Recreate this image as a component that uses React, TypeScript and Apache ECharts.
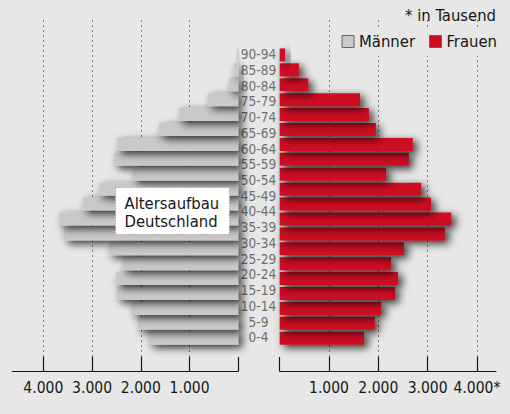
import React, { useEffect, useRef } from 'react';
import * as echarts from 'echarts';

// Age group labels, bottom to top
const ageGroups = ['0-4', '5-9', '10-14', '15-19', '20-24', '25-29', '30-34', '35-39', '40-44', '45-49', '50-54', '55-59', '60-64', '65-69', '70-74', '75-79', '80-84', '85-89', '90-94'];

// Bar rows as drawn in the picture (20 rows), bottom to top, in thousands of persons
const maleValues = [1830, 2060, 2180, 2490, 2510, 2370, 2650, 3580, 3680, 3190, 2860, 2160, 2550, 2490, 1630, 1220, 620, 190, 100, 25];
const femaleValues = [1710, 1930, 2060, 2340, 2400, 2260, 2520, 3350, 3480, 3070, 2870, 2160, 2620, 2700, 1950, 1810, 1630, 580, 390, 110];
const rowIds = maleValues.map((_, i) => 'r' + i);

// Axis scales
const tickValues = [0, 1000, 2000, 3000, 4000];
const leftMax = 4636;
const rightMax = 4387;

const FONT = "'DejaVu Sans Condensed', 'Liberation Sans Narrow', 'DejaVu Sans', sans-serif";
const BG = '#e6e7e6';
const INK = '#161616';
const MALE = '#cbc9c7';
const FEMALE = '#cd0a20';

const fmt = (v: number) => (v === 0 ? '' : `${Math.round(v / 1000)}.000`);

export default function App() {
  const ref = useRef<HTMLDivElement>(null);
  useEffect(() => {
    document.body.style.margin = '0';
    const chart = echarts.init(ref.current!, null, { renderer: 'svg' });
    const axisGridX = (gridIndex: number, inverse: boolean, max: number, star: boolean) => ({
      gridIndex,
      type: 'value',
      inverse,
      min: 0,
      max,
      axisLine: { show: true, lineStyle: { color: INK, width: 1.2 } },
      axisTick: { show: true, inside: true, length: 14, customValues: tickValues, lineStyle: { color: INK, width: 1.2 } },
      axisLabel: {
        show: true,
        customValues: tickValues.slice(1),
        margin: 9,
        fontSize: 15.5,
        fontFamily: FONT,
        color: INK,
        formatter: (v: number) => (star && v === 4000 ? fmt(v) + '*' : fmt(v)),
      },
      splitLine: { show: true, showMinLine: false, lineStyle: { type: [2, 3], color: '#7a7a7a', width: 1 } },
    });
    const hiddenX = (gridIndex: number, inverse: boolean, max: number) => ({
      gridIndex, type: 'value', inverse, min: 0, max, show: false,
      splitLine: { show: false },
    });
    const hiddenY = (gridIndex: number) => ({ gridIndex, type: 'value', show: false, splitLine: { show: false } });
    const barY = (gridIndex: number) => ({
      gridIndex, type: 'category', data: rowIds, show: false,
      axisLine: { show: false }, axisTick: { show: false }, axisLabel: { show: false },
    });
    const shadow = { shadowBlur: 9, shadowColor: 'rgba(0,0,0,0.8)', shadowOffsetX: 4, shadowOffsetY: 3 };
    chart.setOption({
      animation: false,
      backgroundColor: BG,
      textStyle: { fontFamily: FONT },
      title: {
        text: '* in Tausend',
        right: 9,
        top: 2,
        textStyle: { fontFamily: FONT, fontSize: 16.5, fontWeight: 'normal', color: INK },
      },
      legend: {
        data: ['Männer', 'Frauen'],
        right: 13,
        top: 30,
        itemWidth: 12,
        itemHeight: 12,
        itemGap: 14,
        icon: 'rect',
        backgroundColor: BG,
        padding: [3, 0, 6, 4],
        itemStyle: { borderColor: '#666', borderWidth: 1 },
        textStyle: { fontFamily: FONT, fontSize: 16.5, color: INK },
      },
      grid: [
        { left: 12.3, width: 226, top: 20, height: 351, outerBoundsMode: 'none' },
        { left: 12.3, width: 226, top: 47.5, height: 298.2, outerBoundsMode: 'none' },
        { left: 279.7, width: 216.3, top: 20, height: 351, outerBoundsMode: 'none' },
        { left: 279.7, width: 216.3, top: 47.5, height: 298.2, outerBoundsMode: 'none' },
        { left: 258.5, width: 1, top: 46.4, height: 298.7, outerBoundsMode: 'none' },
      ],
      xAxis: [
        axisGridX(0, true, leftMax, false),
        hiddenX(1, true, leftMax),
        axisGridX(2, false, rightMax, true),
        hiddenX(3, false, rightMax),
        hiddenX(4, false, 1),
      ],
      yAxis: [
        hiddenY(0),
        barY(1),
        hiddenY(2),
        barY(3),
        {
          gridIndex: 4,
          type: 'category',
          data: ageGroups,
          axisLine: { show: false },
          axisTick: { show: false },
          splitLine: { show: false },
          axisLabel: { interval: 0, margin: 0, align: 'center', fontSize: 13.5, fontFamily: FONT, color: '#6e6e6e' },
        },
      ],
      series: [
        {
          name: 'Männer',
          type: 'bar',
          xAxisIndex: 1,
          yAxisIndex: 1,
          data: maleValues,
          barWidth: 13,
          itemStyle: { color: MALE, ...shadow },
        },
        {
          name: 'Frauen',
          type: 'bar',
          xAxisIndex: 3,
          yAxisIndex: 3,
          data: femaleValues,
          barWidth: 13,
          itemStyle: { color: FEMALE, ...shadow },
        },
      ],
      graphic: [
        {
          type: 'rect',
          x: 115.5,
          y: 187.5,
          z: 100,
          shape: { x: 0, y: 0, width: 114, height: 47 },
          style: { fill: '#ffffff', stroke: '#8a8a8a', lineWidth: 1, lineDash: [1, 2] },
        },
        {
          type: 'text',
          x: 124.5,
          y: 194,
          z: 101,
          style: {
            text: 'Altersaufbau\nDeutschland',
            fontSize: 16.5,
            fontFamily: FONT,
            fill: INK,
            lineHeight: 18.4,
            verticalAlign: 'top',
          },
        },
      ],
    });
    return () => chart.dispose();
  }, []);
  return <div ref={ref} style={{ position: 'fixed', left: 0, top: 0, width: 510, height: 414 }} />;
}
